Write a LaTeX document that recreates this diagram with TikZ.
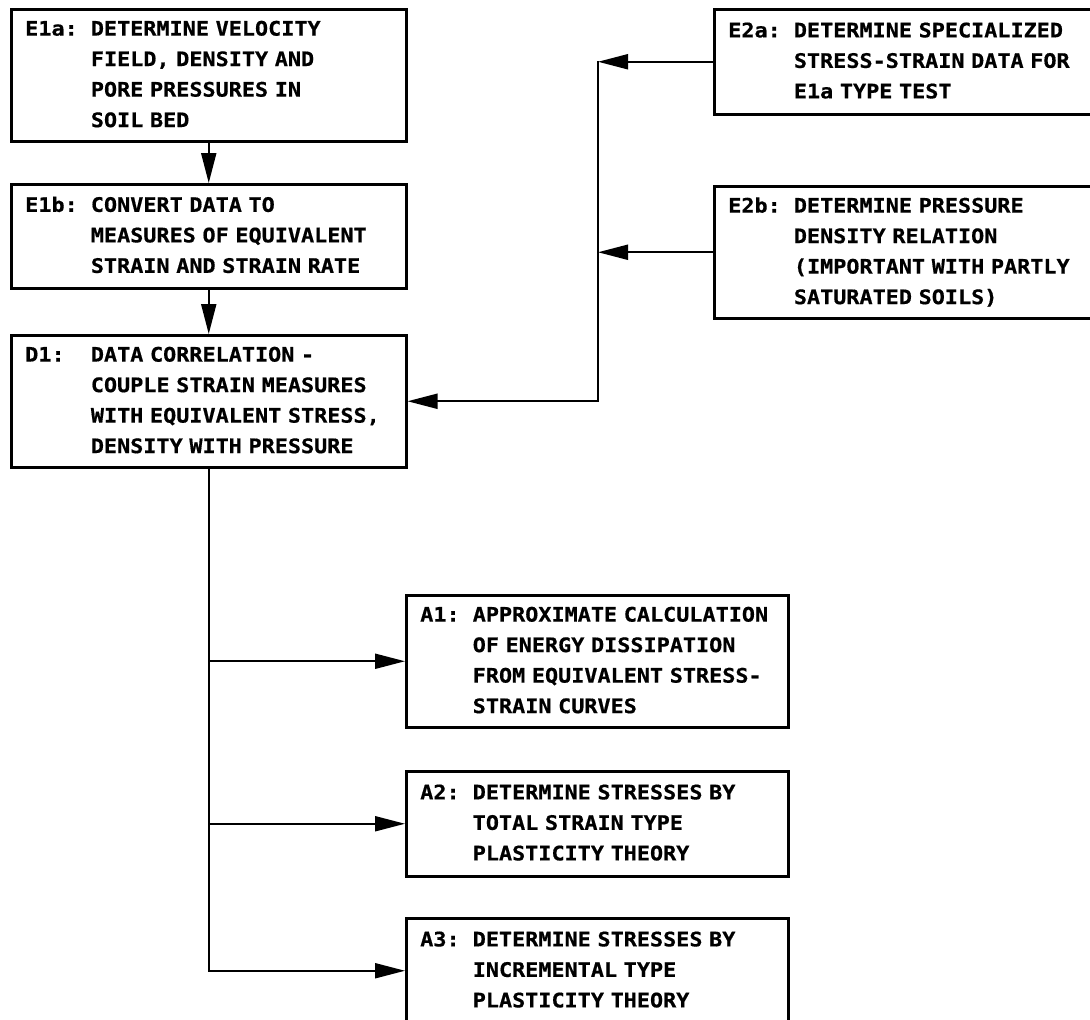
\documentclass[tikz,border=0pt]{standalone}
\usepackage{fontspec}
\usepackage{tikz}
\usetikzlibrary{arrows.meta}
\newfontfamily\leroy{DejaVu Sans Mono}[FakeStretch=1.09, FakeBold=0.6]

\begin{document}
\begin{tikzpicture}[x=1pt, y=-1pt,
  stepbox/.style={draw, line width=2.5pt, rectangle, anchor=north west, align=left,
    inner xsep=14pt, font=\leroy\bfseries\fontsize{20}{30.5}\selectfont},
  flow/.style={line width=2pt, -{Triangle[length=30pt,width=15pt]}}]
  \useasboundingbox (0,0) rectangle (1090,1020);
  \clip (0,0) rectangle (1090,1020);

  \node[stepbox, minimum width=395pt, minimum height=132pt, text width=367pt] (e1a) at (10,8)
    {\begin{tabular}{@{}l@{}l@{}}
      E1a:\hphantom{0} & DETERMINE VELOCITY\\
      & FIELD, DENSITY AND\\
      & PORE PRESSURES IN\\
      & SOIL BED
    \end{tabular}};
  \node[stepbox, minimum width=395pt, minimum height=104pt, text width=367pt] (e1b) at (10,183)
    {\begin{tabular}{@{}l@{}l@{}}
      E1b:\hphantom{0} & CONVERT DATA TO\\
      & MEASURES OF EQUIVALENT\\
      & STRAIN AND STRAIN RATE
    \end{tabular}};
  \node[stepbox, minimum width=395pt, minimum height=132pt, text width=367pt] (d1) at (10,334)
    {\begin{tabular}{@{}l@{}l@{}}
      D1:\hphantom{00} & DATA CORRELATION -\\
      & COUPLE STRAIN MEASURES\\
      & WITH EQUIVALENT STRESS,\\
      & DENSITY WITH PRESSURE
    \end{tabular}};
  \node[stepbox, minimum width=420pt, minimum height=105pt, text width=392pt] (e2a) at (713,8)
    {\begin{tabular}{@{}l@{}l@{}}
      E2a:\hphantom{0} & DETERMINE SPECIALIZED\\
      & STRESS-STRAIN DATA FOR\\
      & E1a TYPE TEST
    \end{tabular}};
  \node[stepbox, minimum width=420pt, minimum height=132pt, text width=392pt] (e2b) at (713,185)
    {\begin{tabular}{@{}l@{}l@{}}
      E2b:\hphantom{0} & DETERMINE PRESSURE\\
      & DENSITY RELATION\\
      & (IMPORTANT WITH PARTLY\\
      & SATURATED SOILS)
    \end{tabular}};
  \node[stepbox, minimum width=382pt, minimum height=132pt, text width=354pt] (a1) at (405,594)
    {\begin{tabular}{@{}l@{}l@{}}
      A1:\hphantom{0} & APPROXIMATE CALCULATION\\
      & OF ENERGY DISSIPATION\\
      & FROM EQUIVALENT STRESS-\\
      & STRAIN CURVES
    \end{tabular}};
  \node[stepbox, minimum width=382pt, minimum height=105pt, text width=354pt] (a2) at (405,770)
    {\begin{tabular}{@{}l@{}l@{}}
      A2:\hphantom{0} & DETERMINE STRESSES BY\\
      & TOTAL STRAIN TYPE\\
      & PLASTICITY THEORY
    \end{tabular}};
  \node[stepbox, minimum width=382pt, minimum height=105pt, text width=354pt] (a3) at (405,917)
    {\begin{tabular}{@{}l@{}l@{}}
      A3:\hphantom{0} & DETERMINE STRESSES BY\\
      & INCREMENTAL TYPE\\
      & PLASTICITY THEORY
    \end{tabular}};

  \coordinate (join) at (598,61);

  \draw[flow] (e1a) -- (e1b);
  \draw[flow] (e1b) -- (d1);
  \draw[flow] (e2a.west) -- (e2a.west -| join);
  \draw[flow] (e2b.west) -- (e2b.west -| join);
  \draw[flow] (join) |- (d1.east);
  \draw[flow] (d1.south) |- (a1.west);
  \draw[flow] (d1.south) |- (a2.west);
  \draw[flow] (d1.south) |- (a3.west);
\end{tikzpicture}
\end{document}
